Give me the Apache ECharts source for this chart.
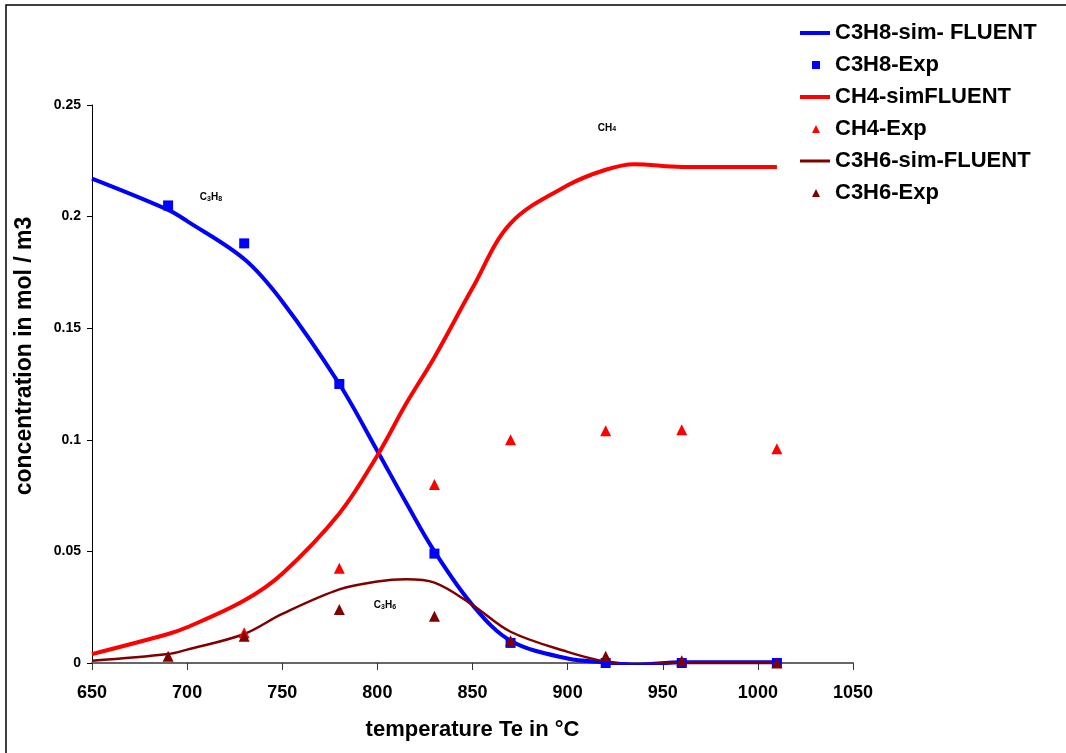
<!DOCTYPE html>
<html>
<head>
<meta charset="utf-8">
<script src="https://cdn.jsdelivr.net/npm/echarts@6/dist/echarts.min.js"></script>
<style>
  html, body { margin: 0; padding: 0; background: #fff; }
  #chart { width: 1066px; height: 753px; }
</style>
</head>
<body>
<div id="chart"></div>
<script>
// simulated curves (FLUENT), temperature in °C
const simT = [650, 690, 700, 730, 750, 780, 800, 815, 830, 850, 870, 900, 920, 935, 960, 1010]
const c3h8Sim = [0.217, 0.203, 0.198, 0.181, 0.162, 0.125, 0.095, 0.072, 0.050, 0.026, 0.010, 0.002, 0.0003, -0.0008, 0.0003, 0.0003]
const ch4Sim = [0.004, 0.013, 0.016, 0.028, 0.040, 0.067, 0.093, 0.116, 0.137, 0.168, 0.197, 0.214, 0.221, 0.2235, 0.2222, 0.2222]
const c3h6Sim = [0.001, 0.004, 0.006, 0.013, 0.022, 0.033, 0.0365, 0.0375, 0.036, 0.026, 0.014, 0.005, 0.0006, -0.0007, 0.0002, 0.0002]

// experiments
const expT = [690, 730, 780, 830, 870, 920, 960, 1010]
const c3h8Exp = [0.205, 0.188, 0.125, 0.049, 0.009, 0, 0, 0]
const ch4ExpT = [730, 780, 830, 870, 920, 960, 1010]
const ch4Exp = [0.0135, 0.0425, 0.080, 0.100, 0.104, 0.1045, 0.096]
const c3h6Exp = [0.003, 0.012, 0.024, 0.021, 0.010, 0.003, 0.001, 0.0]

const xTicks = [650, 700, 750, 800, 850, 900, 950, 1000, 1050]
const yTicks = [0, 0.05, 0.1, 0.15, 0.2, 0.25]

const zip = (xs, ys) => xs.map((x, i) => [x, ys[i]])

const BLUE = '#0000ff'
const RED = '#ff0000'
const DARK = '#800000'
const FONT = 'Liberation Sans, Arial, sans-serif'

const chart = echarts.init(document.getElementById('chart'))

// one legend per entry so every icon keeps its own size
const legendItem = (name, top, icon, h) => ({
  data: [{ name: name, icon: icon }],
  left: 795,
  top: top,
  itemWidth: 30,
  itemHeight: h,
  symbolKeepAspect: true,
  textStyle: { fontFamily: FONT, fontWeight: 'bold', fontSize: 22, color: '#000' },
  selectedMode: false
})

// the leading moves keep a 30 x 8 box so the marker sits in the middle
const SQUARE = 'path://M0,0 M30,8 M12,0 L20,0 L20,8 L12,8 Z'
const TRI = 'path://M0,0 M30,8 M16,0 L20,8 L12,8 Z'

const subLabel = (txt) => ({
  formatter: txt,
  rich: {
    n: { fontFamily: FONT, fontWeight: 'bold', fontSize: 10, verticalAlign: 'bottom', color: '#000' },
    s: { fontFamily: FONT, fontWeight: 'bold', fontSize: 7, verticalAlign: 'bottom', padding: [4, 0, 0, 0], color: '#000' }
  }
})

const note = (txt, x, y) => ({
  symbol: 'rect',
  symbolSize: 1,
  itemStyle: { color: 'rgba(0,0,0,0)' },
  label: Object.assign({ show: true, position: 'inside' }, subLabel(txt)),
  data: [{ coord: [x, y] }]
})

chart.setOption({
  animation: false,
  backgroundColor: '#fff',
  graphic: [{
    type: 'rect',
    shape: { x: 6, y: 5, width: 1200, height: 900 },
    style: { fill: 'none', stroke: '#000', lineWidth: 1.5 },
    silent: true
  }],
  legend: [
    legendItem('C3H8-sim- FLUENT', 17, 'rect', 4),
    legendItem('C3H8-Exp', 49, SQUARE, 8),
    legendItem('CH4-simFLUENT', 81, 'rect', 4),
    legendItem('CH4-Exp', 113, TRI, 8),
    legendItem('C3H6-sim-FLUENT', 145, 'rect', 3),
    legendItem('C3H6-Exp', 177, TRI, 8)
  ],
  grid: { left: 92, right: 213, top: 105, bottom: 90 },
  xAxis: {
    type: 'value',
    min: 650,
    max: 1050,
    interval: 50,
    name: 'temperature Te in °C',
    nameLocation: 'middle',
    nameGap: 56,
    nameTextStyle: { fontFamily: FONT, fontWeight: 'bold', fontSize: 22, color: '#000' },
    axisLine: { lineStyle: { color: '#666', width: 2 } },
    axisTick: { show: true, length: 7, lineStyle: { color: '#333' } },
    axisLabel: {
      margin: 21,
      fontFamily: FONT, fontWeight: 'bold', fontSize: 18, color: '#000',
      formatter: (v) => xTicks.includes(v) ? String(v) : ''
    },
    splitLine: { show: false }
  },
  yAxis: {
    type: 'value',
    min: 0,
    max: 0.25,
    interval: 0.05,
    name: 'concentration in mol / m3',
    nameLocation: 'middle',
    nameGap: 56,
    nameTextStyle: { fontFamily: FONT, fontWeight: 'bold', fontSize: 23, color: '#000', padding: [0, 0, 0, 56] },
    axisLine: { show: true, lineStyle: { color: '#000', width: 1 } },
    axisTick: { show: true, length: 5, lineStyle: { color: '#000' } },
    axisLabel: {
      margin: 11,
      fontFamily: FONT, fontWeight: 'bold', fontSize: 14, color: '#000',
      formatter: (v) => {
        const t = yTicks.find(k => Math.abs(k - v) < 1e-9)
        return t === undefined ? '' : String(t)
      }
    },
    splitLine: { show: false }
  },
  series: [
    {
      name: 'C3H8-sim- FLUENT',
      type: 'line',
      smooth: 0.35,
      showSymbol: false,
      data: zip(simT, c3h8Sim),
      lineStyle: { color: BLUE, width: 4 },
      itemStyle: { color: BLUE },
      z: 3,
      markPoint: note('{n|C}{s|3}{n|H}{s|8}', 712.5, 0.2088)
    },
    {
      name: 'C3H8-Exp',
      type: 'scatter',
      symbol: 'rect',
      symbolSize: 10,
      data: zip(expT, c3h8Exp),
      itemStyle: { color: BLUE, opacity: 1 },
      z: 4
    },
    {
      name: 'CH4-simFLUENT',
      type: 'line',
      smooth: 0.35,
      showSymbol: false,
      data: zip(simT, ch4Sim),
      lineStyle: { color: RED, width: 4 },
      itemStyle: { color: RED },
      z: 3,
      markPoint: note('{n|CH}{s|4}', 920.7, 0.240)
    },
    {
      name: 'CH4-Exp',
      type: 'scatter',
      symbol: 'triangle',
      symbolSize: 11,
      data: zip(ch4ExpT, ch4Exp),
      itemStyle: { color: RED, opacity: 1 },
      z: 4
    },
    {
      name: 'C3H6-sim-FLUENT',
      type: 'line',
      smooth: 0.35,
      showSymbol: false,
      data: zip(simT, c3h6Sim),
      lineStyle: { color: DARK, width: 2.5 },
      itemStyle: { color: DARK },
      z: 3,
      markPoint: note('{n|C}{s|3}{n|H}{s|6}', 804, 0.026)
    },
    {
      name: 'C3H6-Exp',
      type: 'scatter',
      symbol: 'triangle',
      symbolSize: 11,
      data: zip(expT, c3h6Exp),
      itemStyle: { color: DARK, opacity: 1 },
      z: 5
    }
  ]
})
</script>
</body>
</html>
